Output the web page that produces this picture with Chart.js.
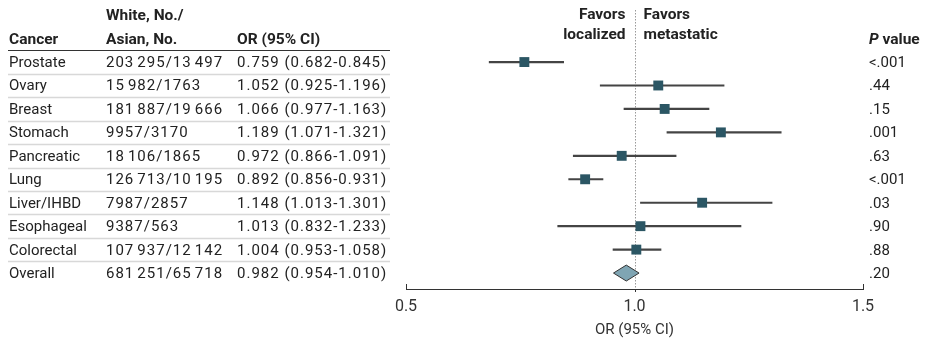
<!DOCTYPE html>
<html>
<head>
<meta charset="utf-8">
<script src="https://cdn.jsdelivr.net/npm/chart.js@4.4.1/dist/chart.umd.min.js"></script>
<style>
  body { margin: 0; background: #fff; }
  #wrap { position: relative; width: 926px; height: 342px; font-family: Roboto, "Noto Sans", sans-serif; color: #222; }
  #forest { position: absolute; left: 0; top: 0; }
  .txt { position: absolute; font-size: 15px; line-height: 20px; height: 20px; white-space: nowrap; }
  .num { letter-spacing: 1px; }
  .hd { font-weight: 700; font-size: 15.5px; }
</style>
</head>
<body>
<div id="wrap">
  <canvas id="forest" width="926" height="342"></canvas>
</div>
<script>
// Donnees
const cancers = ['Prostate', 'Ovary', 'Breast', 'Stomach', 'Pancreatic', 'Lung', 'Liver/IHBD', 'Esophageal', 'Colorectal', 'Overall'];
const whiteN = [203295, 15982, 181887, 9957, 18106, 126713, 7987, 9387, 107937, 681251];
const asianN = [13497, 1763, 19666, 3170, 1865, 10195, 2857, 563, 12142, 65718];
const orValues = [0.759, 1.052, 1.066, 1.189, 0.972, 0.892, 1.148, 1.013, 1.004, 0.982];
const ciLow = [0.682, 0.925, 0.977, 1.071, 0.866, 0.856, 1.013, 0.832, 0.953, 0.954];
const ciHigh = [0.845, 1.196, 1.163, 1.321, 1.091, 0.931, 1.301, 1.233, 1.058, 1.010];
const pValues = ['<.001', '.44', '.15', '.001', '.63', '<.001', '.03', '.90', '.88', '.20'];
const xTicks = [0.5, 1.0, 1.5];

const wrap = document.getElementById('wrap');
const canvas = document.getElementById('forest');

// nombres a la JAMA : espace fine a partir de 5 chiffres
const fmtN = (n) => n >= 10000 ? String(n).replace(/\B(?=(\d{3})+(?!\d))/g, '<span style="letter-spacing:0">\u2009</span>') : String(n);

const last = cancers.length - 1;
const studies = cancers.slice(0, last);

// Traits des IC (barres flottantes)
const ciData = studies.map((c, i) => ({ y: i, x: [ciLow[i], ciHigh[i]] }));
// Carres des OR
const orData = studies.map((c, i) => ({ x: orValues[i], y: i }));
// Losange global
const halfH = 0.34;
const diamondData = [
    { x: ciLow[last], y: last },
    { x: orValues[last], y: last - halfH },
    { x: ciHigh[last], y: last },
    { x: orValues[last], y: last + halfH },
    { x: ciLow[last], y: last }
];

const forestDecor = {
    id: 'forestDecor',
    beforeDatasetsDraw(chart) {
        const ctx = chart.ctx;
        const xs = chart.scales.x;
        const ys = chart.scales.y;
        const area = chart.chartArea;
        ctx.save();
        // ligne de reference OR = 1
        const x1 = Math.round(xs.getPixelForValue(1)) + 0.5;
        ctx.strokeStyle = '#999';
        ctx.lineWidth = 1;
        ctx.setLineDash([1.5, 1.5]);
        ctx.beginPath();
        ctx.moveTo(x1, area.top);
        ctx.lineTo(x1, area.bottom);
        ctx.stroke();
        ctx.setLineDash([]);
        // filets du tableau
        for (let i = -1; i < last; i++) {
            const y = Math.round(ys.getPixelForValue(i + 0.5)) + 0.5;
            ctx.strokeStyle = i < 0 ? '#333' : '#d8d8d8';
            ctx.lineWidth = i < 0 ? 1.2 : 1.5;
            ctx.beginPath();
            ctx.moveTo(8, y);
            ctx.lineTo(390, y);
            ctx.stroke();
        }
        // graduations
        ctx.strokeStyle = '#333';
        ctx.lineWidth = 1;
        xTicks.forEach((t, k) => {
            const x = Math.round(xs.getPixelForValue(t)) + 0.5;
            const up = (k === 0 || k === xTicks.length - 1);
            ctx.beginPath();
            ctx.moveTo(x, area.bottom);
            ctx.lineTo(x, up ? area.bottom - 5 : area.bottom + 3);
            ctx.stroke();
        });
        ctx.restore();
    }
};

const chart = new Chart(canvas, {
    type: 'scatter',
    data: {
        datasets: [
            {
                type: 'bar',
                label: 'IC 95%',
                indexAxis: 'y',
                data: ciData,
                backgroundColor: '#444',
                barThickness: 1.5,
                order: 2
            },
            {
                type: 'scatter',
                label: 'OR',
                data: orData,
                pointStyle: 'rect',
                pointRadius: 7,
                pointHoverRadius: 7,
                backgroundColor: '#2b5664',
                borderColor: '#2b5664',
                borderWidth: 0,
                order: 1
            },
            {
                type: 'line',
                label: 'Overall',
                data: diamondData,
                borderColor: '#333',
                borderWidth: 1,
                backgroundColor: '#7fa5b3',
                fill: 'shape',
                pointRadius: 0,
                tension: 0,
                order: 0
            }
        ]
    },
    options: {
        responsive: false,
        animation: false,
        events: [],
        layout: { padding: { left: 406, right: 63, top: 10, bottom: 0 } },
        plugins: { legend: { display: false }, tooltip: { enabled: false } },
        scales: {
            x: {
                type: 'linear',
                min: 0.5,
                max: 1.5,
                offset: false,
                afterBuildTicks: (axis) => { axis.ticks = xTicks.map(v => ({ value: v })); },
                afterFit: (axis) => { axis.height = 53; },
                grid: { display: false, drawTicks: false },
                border: { display: true, color: '#333', width: 1 },
                ticks: {
                    padding: 8,
                    color: '#333',
                    font: { family: 'Roboto', size: 16 },
                    callback: (v) => Number(v).toFixed(1)
                },
                title: {
                    display: true,
                    text: 'OR (95% CI)',
                    color: '#333',
                    font: { family: 'Roboto', size: 15 },
                    padding: { top: 3, bottom: 3 }
                }
            },
            y: {
                type: 'linear',
                reverse: true,
                offset: false,
                min: -2.22,
                max: 9.68,
                display: false
            }
        }
    },
    plugins: [forestDecor]
});

// Textes du tableau, places sur l'echelle y du graphique
const addText = (str, x, y, cls, align) => {
    const d = document.createElement('div');
    d.className = 'txt ' + (cls || '');
    d.innerHTML = str;
    d.style.top = (y - 10) + 'px';
    if (align === 'right') d.style.right = (926 - x) + 'px';
    else d.style.left = x + 'px';
    wrap.appendChild(d);
};

const ys = chart.scales.y;
const xs = chart.scales.x;
const colCancer = 9, colN = 106, colOR = 237, colP = 869;

addText('White, No./', colN, 15, 'hd');
addText('Cancer', colCancer, 39, 'hd');
addText('Asian, No.', colN, 39, 'hd');
addText('OR (95% CI)', colOR, 39, 'hd');
addText('<i>P</i> value', colP, 39, 'hd');

const xRef = xs.getPixelForValue(1);
addText('Favors', xRef - 9, 14, 'hd', 'right');
addText('localized', xRef - 9, 34, 'hd', 'right');
addText('Favors', xRef + 9, 14, 'hd');
addText('metastatic', xRef + 9, 34, 'hd');

cancers.forEach((c, i) => {
    const y = ys.getPixelForValue(i);
    addText(c, colCancer, y);
    addText(fmtN(whiteN[i]) + '/' + fmtN(asianN[i]), colN, y, 'num');
    addText(orValues[i].toFixed(3) + ' (' + ciLow[i].toFixed(3) + '-' + ciHigh[i].toFixed(3) + ')', colOR, y, 'num');
    addText(pValues[i].replace('<', '&lt;'), colP, y);
});
</script>
</body>
</html>
